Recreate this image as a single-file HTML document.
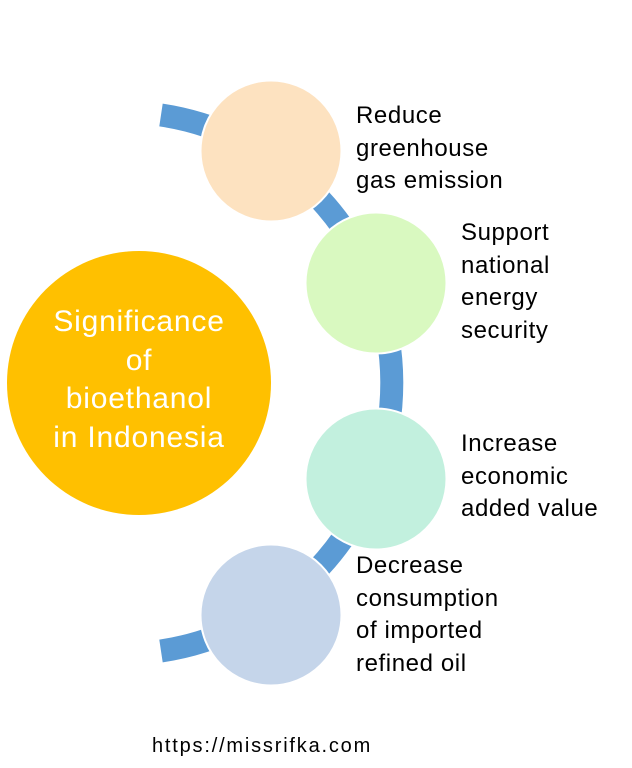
<!DOCTYPE html>
<html><head><style>
body{margin:0;width:632px;height:768px;background:#fff;position:relative;overflow:hidden;font-family:"Liberation Sans",sans-serif}
.t{position:absolute;font-size:24px;line-height:32.5px;color:#000;letter-spacing:0.6px;white-space:nowrap}
</style></head><body>
<svg width="632" height="768" style="position:absolute;left:0;top:0">
<path d="M161 115 A271 271 0 0 1 161 651" fill="none" stroke="#5B9BD5" stroke-width="23"/>
<circle cx="139" cy="383" r="132" fill="#FFC000"/>
<circle cx="271" cy="151" r="70.5" fill="#FDE2C0" stroke="#fff" stroke-width="2"/>
<circle cx="376" cy="283" r="70.5" fill="#D9F9C0" stroke="#fff" stroke-width="2"/>
<circle cx="376" cy="479" r="70.5" fill="#C2F0DE" stroke="#fff" stroke-width="2"/>
<circle cx="271" cy="615" r="70.5" fill="#C5D5EA" stroke="#fff" stroke-width="2"/>
</svg>
<div style="position:absolute;left:7px;top:303px;width:264px;text-align:center;color:#fff;font-size:30px;letter-spacing:0.8px;line-height:38.5px;white-space:nowrap">Significance<br>of<br>bioethanol<br>in Indonesia</div>
<div class="t" style="left:356px;top:100px">Reduce<br>greenhouse<br>gas emission</div>
<div class="t" style="left:461px;top:217px">Support<br>national<br>energy<br>security</div>
<div class="t" style="left:461px;top:428px">Increase<br>economic<br>added value</div>
<div class="t" style="left:356px;top:550px">Decrease<br>consumption<br>of imported<br>refined oil</div>
<div style="position:absolute;left:152px;top:735px;font-size:20px;letter-spacing:1.8px;white-space:nowrap">https://missrifka.com</div>
</body></html>
